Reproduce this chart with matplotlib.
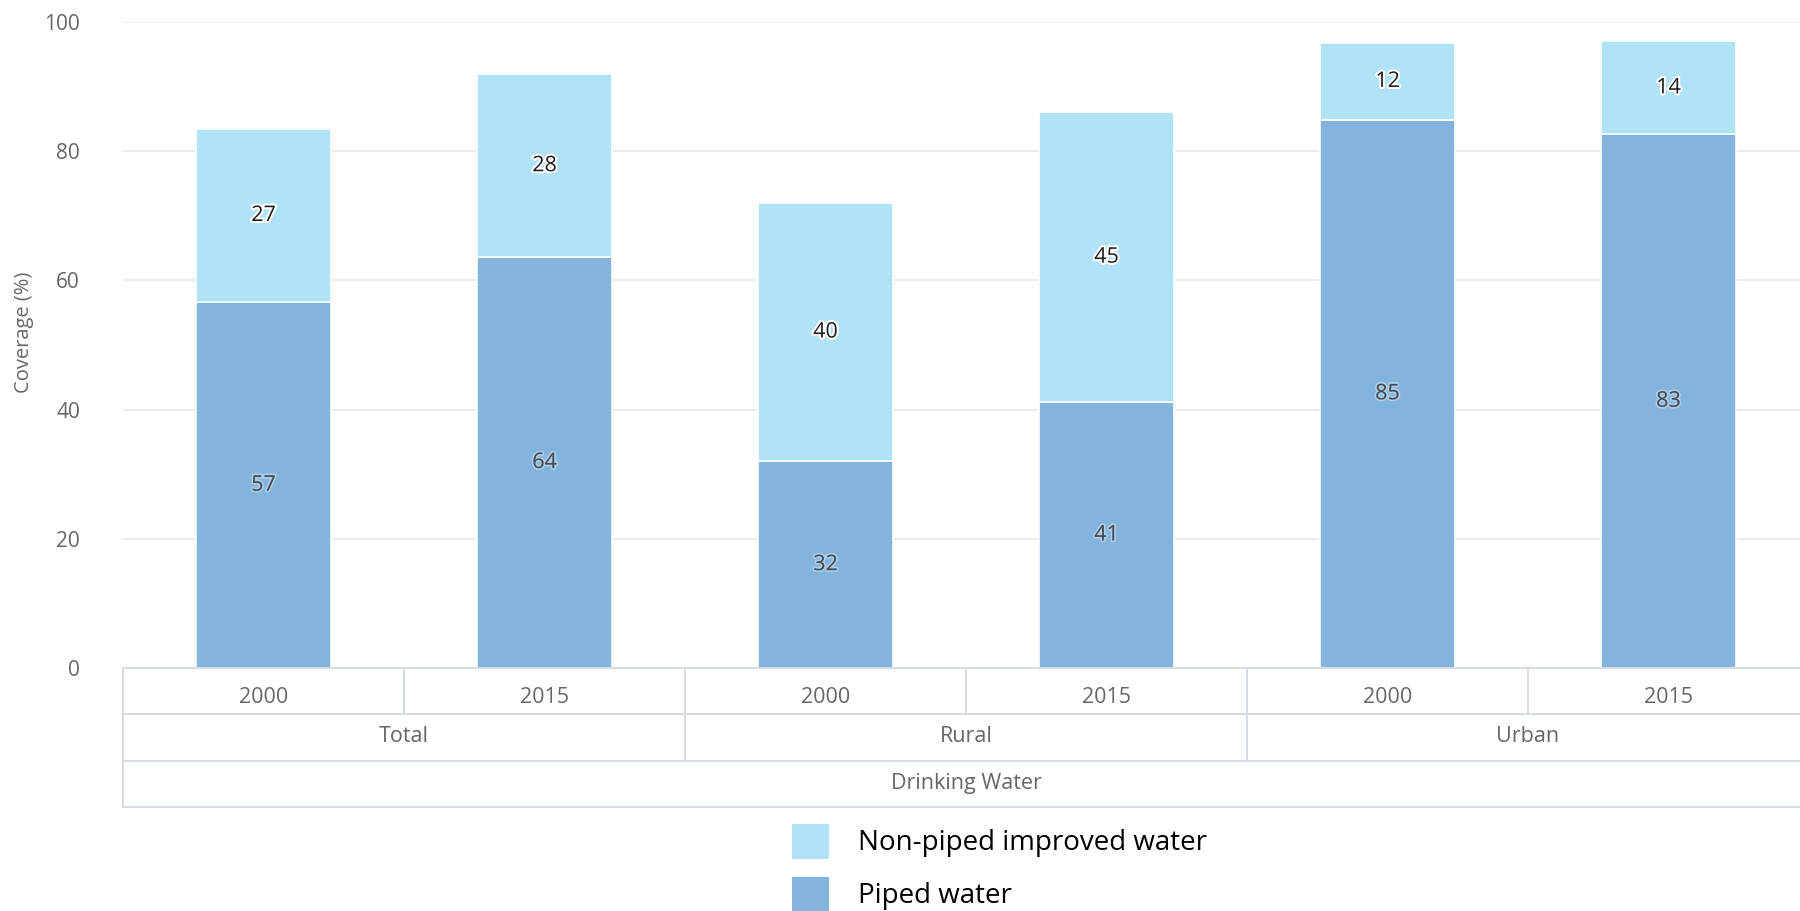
import matplotlib
matplotlib.use("Agg")
import matplotlib.pyplot as plt
import matplotlib.patheffects as pe
from matplotlib.patches import Rectangle

plt.rcParams['font.family'] = ['Open Sans', 'DejaVu Sans']

# ---- data ----
groups = ["Total", "Rural", "Urban"]
years = ["2000", "2015"]
super_label = "Drinking Water"
piped = [56.6, 63.6, 32.0, 41.2, 84.9, 82.6]
non_piped = [26.9, 28.3, 40.0, 44.8, 11.8, 14.4]
series_names = ["Non-piped improved water", "Piped water"]
series_colors = ["#B0E2F8", "#83B4DD"]
y_ticks = [0, 20, 40, 60, 80, 100]
y_label = "Coverage (%)"

W, H = 1800, 911
fig = plt.figure(figsize=(W / 100, H / 100), dpi=100)
fig.patch.set_facecolor("white")


def rect(x0, y0, x1, y1):
    return [x0 / W, 1 - y1 / H, (x1 - x0) / W, (y1 - y0) / H]


left_px = 123
band_px = 281.0
ax = fig.add_axes(rect(left_px, 22, 1800, 668))
tab = fig.add_axes(rect(left_px, 668, 1800, 807), sharex=ax)

n = len(piped)
xs = list(range(n))
bw = 0.48
ax.bar(xs, piped, width=bw, color=series_colors[1], edgecolor="white", linewidth=1.2, zorder=3)
ax.bar(xs, non_piped, bottom=piped, width=bw, color=series_colors[0], edgecolor="white", linewidth=1.2, zorder=3)

for x, p, q in zip(xs, piped, non_piped):
    ax.text(x, p / 2, f"{p:.0f}", ha="center", va="center", fontsize=15.5, color="#434b57", zorder=5,
            path_effects=[pe.withStroke(linewidth=2.5, foreground=(1, 1, 1, 0.35))])
    ax.text(x, p + q / 2, f"{q:.0f}", ha="center", va="center", fontsize=15.5, color="#1e1e1e", zorder=5,
            path_effects=[pe.withStroke(linewidth=3, foreground="white")])

xmax = -0.5 + (1800 - left_px) / band_px
ax.set_xlim(-0.5, xmax)
ax.set_ylim(0, 100)
ax.set_yticks(y_ticks)
ax.set_yticklabels([str(t) for t in y_ticks], fontsize=15, color="#666666")
ax.tick_params(axis="y", length=0, pad=31)
ax.tick_params(axis="x", length=0, labelbottom=False)
ax.grid(axis="y", color="#e8e8e8", linewidth=1.2, zorder=0)
for s in ax.spines.values():
    s.set_visible(False)
ax.set_ylabel(y_label, fontsize=14.5, color="#666666", va="center", rotation_mode="anchor")
ax.yaxis.set_label_coords(-(left_px - 24) / (1800 - left_px), (668 - 332) / 646)

# ---- category table below the axis ----
line_c = "#d6dbe6"
tab.set_ylim(3, 0)
tab.set_xlim(-0.5, xmax)
tab.axis("off")
lw = 1.4
for yv in [0, 1, 2, 3]:
    tab.plot([-0.5, xmax + 1], [yv, yv], color=line_c, lw=lw, clip_on=False, zorder=2)
tab.plot([-0.5, -0.5], [0, 3], color=line_c, lw=lw, clip_on=False)
for b in [0.5, 1.5, 2.5, 3.5, 4.5, 5.5]:
    tab.plot([b, b], [0, 1], color=line_c, lw=lw)
for b in [1.5, 3.5, 5.5]:
    tab.plot([b, b], [1, 2], color=line_c, lw=lw)

for i in range(n):
    tab.text(i, 0.64, years[i % len(years)], ha="center", va="center", fontsize=15.5, color="#666666")
for g, name in enumerate(groups):
    tab.text(g * 2 + 0.5, 1.48, name, ha="center", va="center", fontsize=15.5, color="#666666")
tab.text((n - 1) / 2, 2.5, super_label, ha="center", va="center", fontsize=15.5, color="#666666")

# ---- legend (stacked squares below the chart) ----
leg_y = [824, 877]
for name, col, y0 in zip(series_names, series_colors, leg_y):
    fig.patches.append(Rectangle((792 / W, 1 - (y0 + 35) / H), 37 / W, 35 / H,
                                 transform=fig.transFigure, facecolor=col, edgecolor="none"))
    fig.text(858 / W, 1 - (y0 + 19) / H, name, ha="left", va="center", fontsize=20, color="black")

fig.savefig("out.png", dpi=100, facecolor="white")
